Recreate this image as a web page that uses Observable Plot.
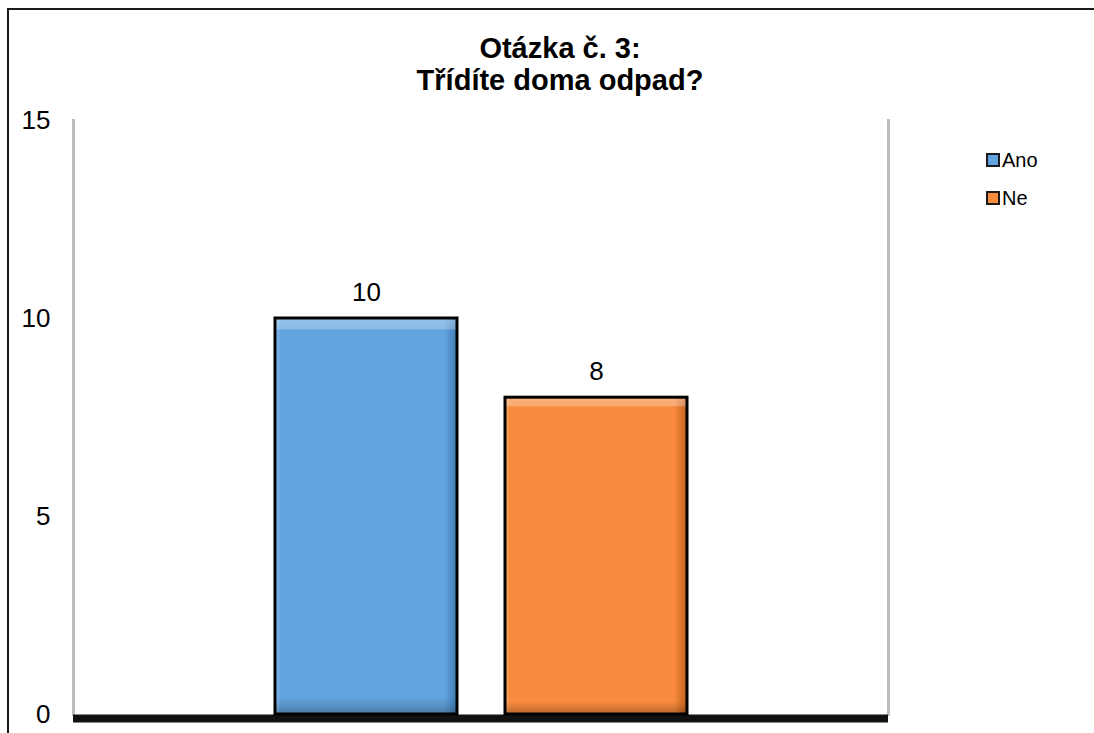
<!DOCTYPE html>
<html>
<head>
<meta charset="utf-8">
<script src="https://cdn.jsdelivr.net/npm/d3@7"></script>
<script src="https://cdn.jsdelivr.net/npm/@observablehq/plot@0.6"></script>
<style>
  html, body { margin: 0; padding: 0; background: #fff; overflow: hidden; }
  #wrap { position: relative; width: 1094px; height: 733px; overflow: hidden; font-family: "Liberation Sans", Arial, sans-serif; }
  #frame { position: absolute; left: 7px; top: 8px; right: -20px; bottom: -20px; border-left: 2px solid #1a1a1a; border-top: 2px solid #1a1a1a; }
  #title { position: absolute; left: 0; width: 1120px; top: 32px; text-align: center; font-weight: bold; font-size: 29px; line-height: 32px; color: #000; }
  #legend { position: absolute; left: 986px; top: 148px; font-size: 20px; color: #000; }
  .item { display: flex; align-items: center; height: 24px; margin-bottom: 14px; }
  .sw { width: 10px; height: 10px; border: 2px solid #1a1a1a; margin-right: 2px; }
  #chart { position: absolute; left: 0; top: 0; }
</style>
</head>
<body>
<div id="wrap">
  <div id="frame"></div>
  <div id="chart"></div>
  <div id="title">Otázka č. 3:<br>Třídíte doma odpad?</div>
  <div id="legend"></div>
</div>
<script>
const categories = ["Ano", "Ne"];
const values = [10, 8];
const colors = ["#62A4DF", "#F88B3D"];
const lightColors = ["#8FC3EE", "#FBAA6C"];
const darkColors = ["#3F7CB4", "#C0621E"];
const yTicks = [0, 5, 10, 15];

const data = categories.map((c, i) => ({category: c, value: values[i]}));

const chart = Plot.plot({
  width: 1094,
  height: 733,
  marginLeft: 73,
  marginRight: 206,
  marginTop: 120,
  marginBottom: 19,
  style: {fontFamily: "'Liberation Sans', Arial, sans-serif", background: "transparent", fontSize: "26px", color: "#000"},
  x: {domain: categories, paddingInner: 0.209, paddingOuter: 0.876, axis: null},
  y: {domain: [0, 15], ticks: yTicks, tickSize: 0, tickPadding: 23, label: null, tickFormat: d => String(d)},
  color: {domain: categories, range: categories.map((c, i) => `url(#grad${i})`)},
  marks: [
    Plot.frame({anchor: "left", stroke: "#bdbdbd", strokeWidth: 3}),
    Plot.frame({anchor: "right", stroke: "#bdbdbd", strokeWidth: 3}),
    Plot.ruleY([0], {stroke: "#111", strokeWidth: 8, dy: 4}),
    Plot.barY(data, {x: "category", y: "value", fill: "category"}),
    Plot.barY(data, {x: "category", y: "value", fill: "url(#hl)", stroke: "#000", strokeWidth: 3}),
    Plot.text(data, {x: "category", y: "value", text: d => String(d.value), dy: -26, fontSize: 26, fill: "#000"})
  ]
});

// gradients for bevel look
const ns = "http://www.w3.org/2000/svg";
const defs = document.createElementNS(ns, "defs");
function grad(id, stops, vertical) {
  const g = document.createElementNS(ns, "linearGradient");
  g.setAttribute("id", id);
  g.setAttribute("x1", "0"); g.setAttribute("y1", "0");
  g.setAttribute("x2", vertical ? "0" : "1"); g.setAttribute("y2", vertical ? "1" : "0");
  stops.forEach(([o, c, op]) => {
    const s = document.createElementNS(ns, "stop");
    s.setAttribute("offset", o);
    s.setAttribute("stop-color", c);
    s.setAttribute("stop-opacity", op == null ? 1 : op);
    g.appendChild(s);
  });
  defs.appendChild(g);
}
categories.forEach((c, i) => {
  grad(`grad${i}`, [["0", lightColors[i]], ["0.03", colors[i]], ["0.93", colors[i]], ["1", darkColors[i]]], false);
});
grad("hl", [["0", "#ffffff", 0.35], ["0.028", "#ffffff", 0.25], ["0.03", "#ffffff", 0], ["0.96", "#000000", 0], ["1", "#000000", 0.25]], true);
chart.insertBefore(defs, chart.firstChild);

document.getElementById("chart").appendChild(chart);

const legend = document.getElementById("legend");
categories.forEach((c, i) => {
  const item = document.createElement("div");
  item.className = "item";
  const sw = document.createElement("div");
  sw.className = "sw";
  sw.style.background = colors[i];
  const t = document.createElement("span");
  t.textContent = c;
  item.appendChild(sw);
  item.appendChild(t);
  legend.appendChild(item);
});
</script>
</body>
</html>
